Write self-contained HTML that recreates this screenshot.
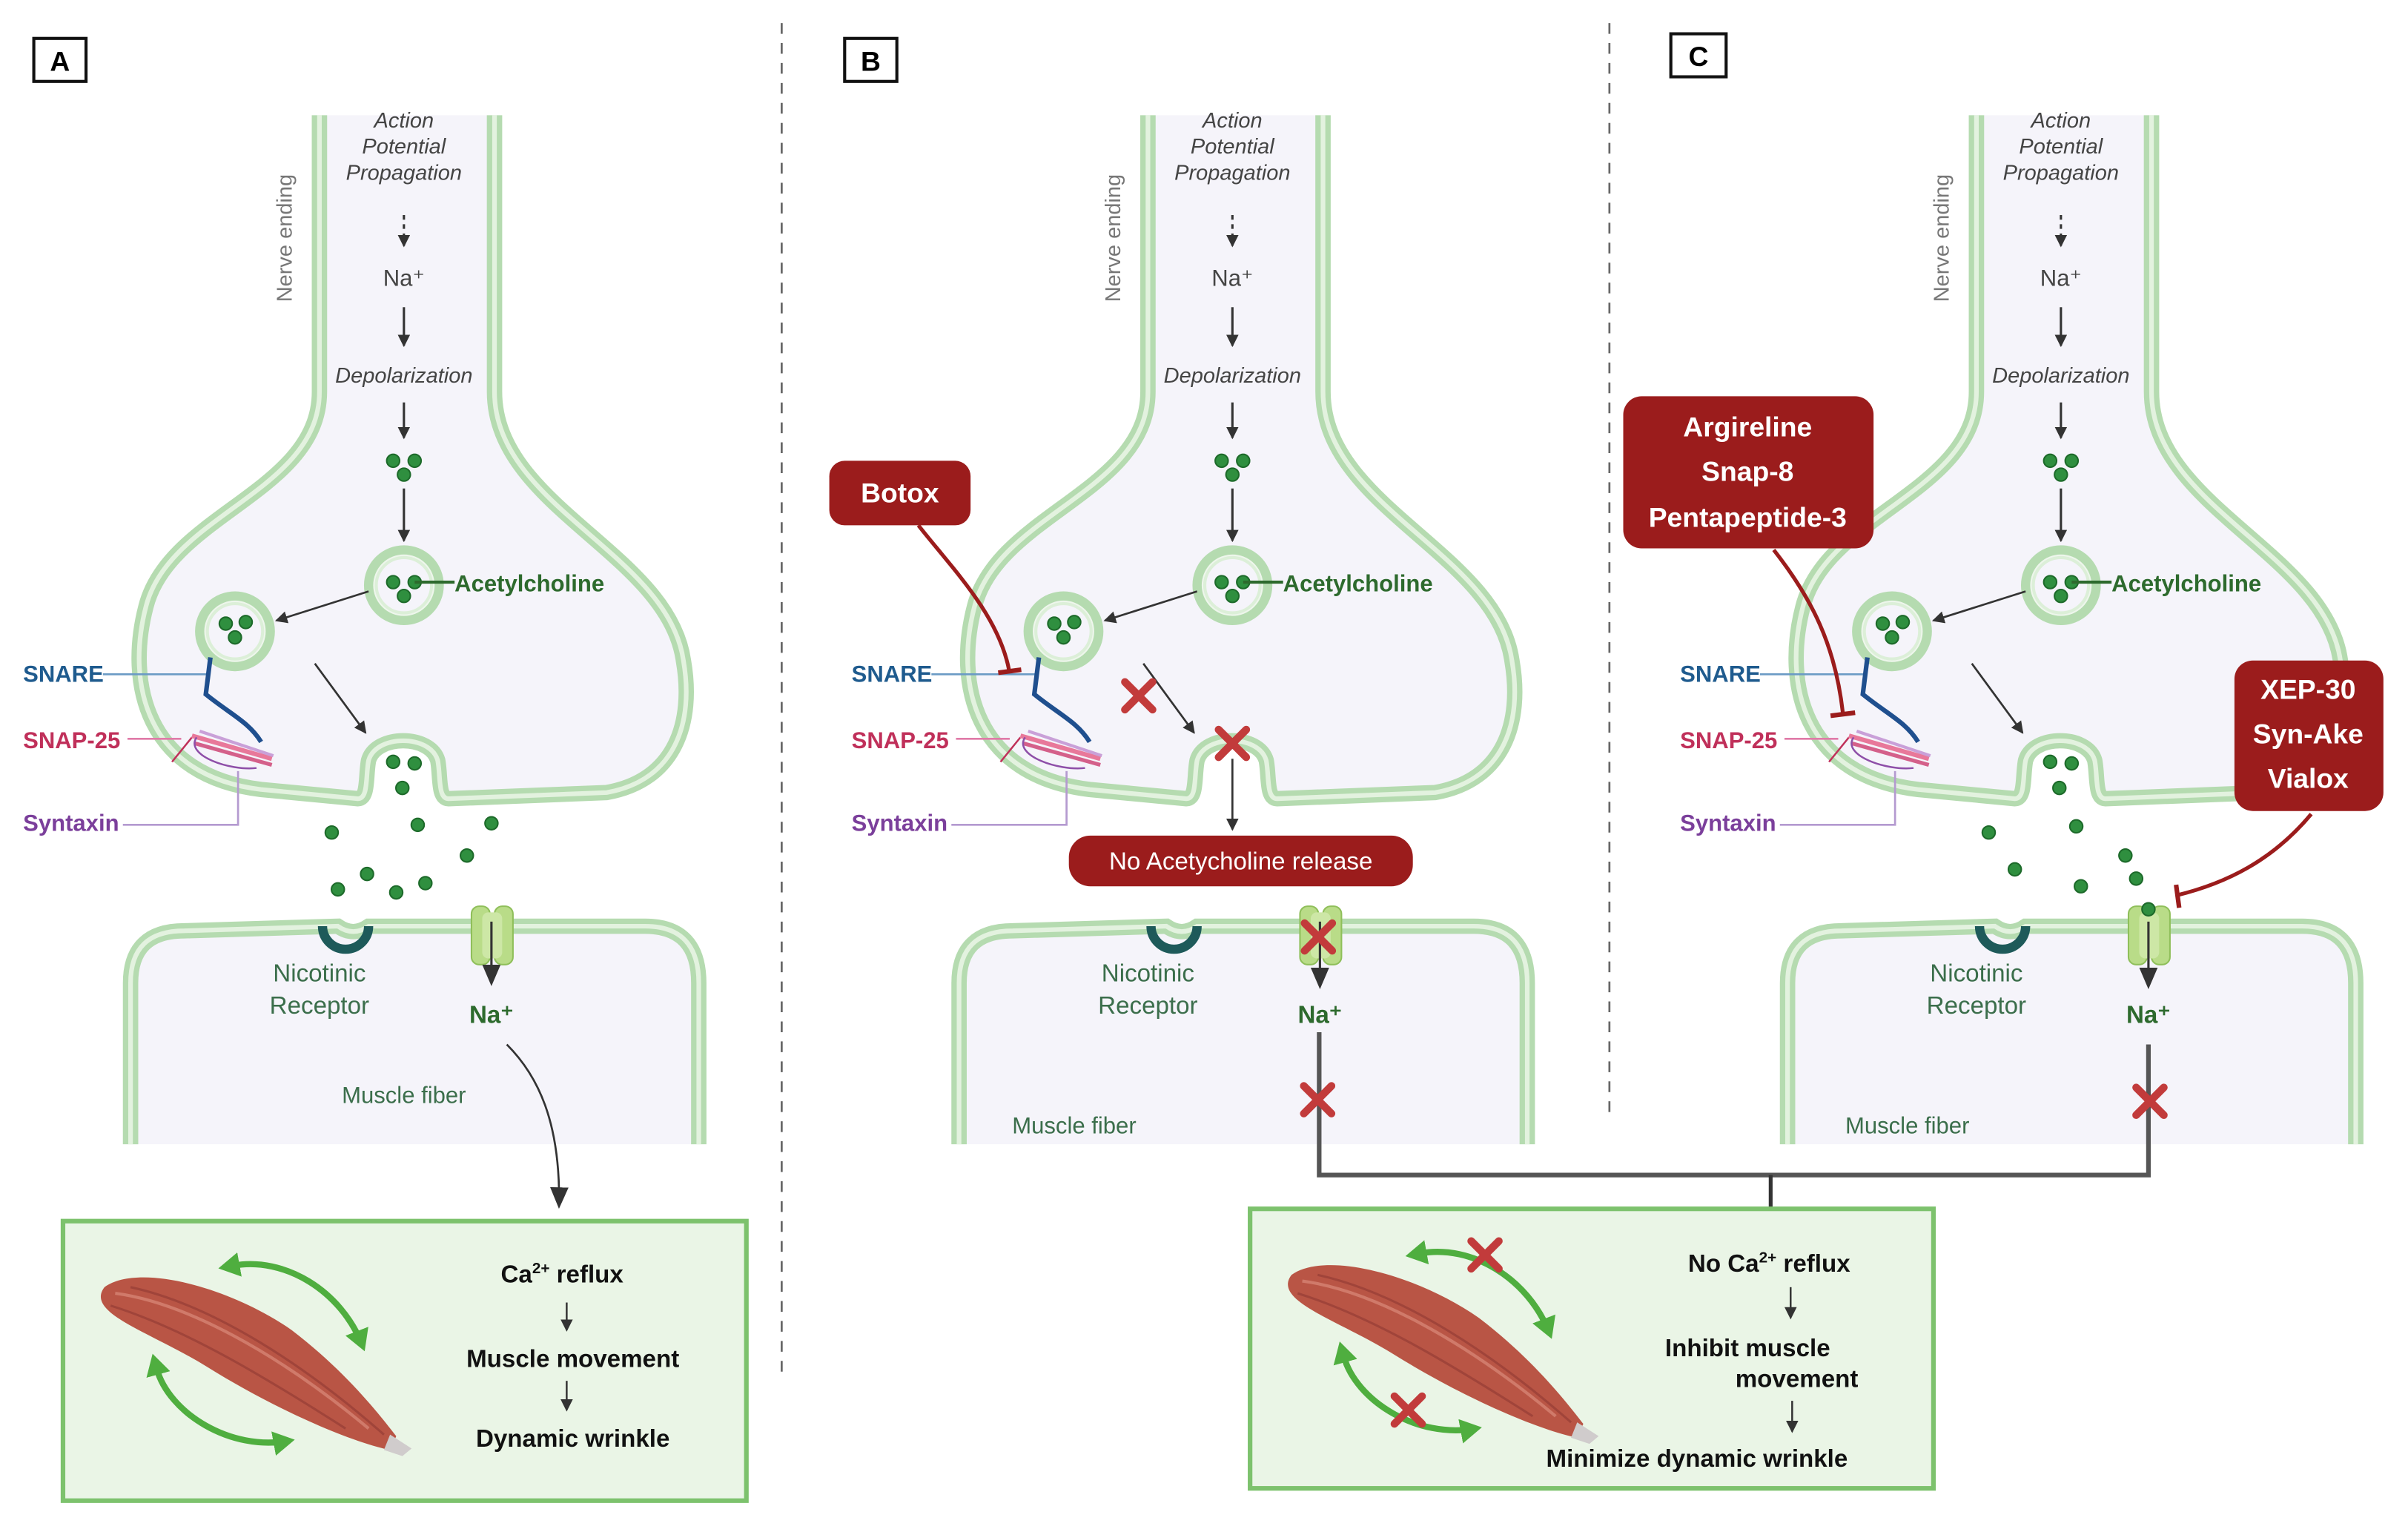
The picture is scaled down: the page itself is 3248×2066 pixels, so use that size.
<!DOCTYPE html>
<html><head><meta charset="utf-8"><style>
html,body{margin:0;padding:0;background:#fff;}
svg{display:block;}
text{font-family:"Liberation Sans",sans-serif;}
</style></head><body>
<svg width="3248" height="2066" viewBox="0 0 1568 997.4" xmlns="http://www.w3.org/2000/svg">
<defs>
<marker id="ah" markerWidth="8" markerHeight="8" refX="7" refY="4" orient="auto" markerUnits="userSpaceOnUse"><path d="M0,0 L8,4 L0,8Z" fill="#333"/></marker>
<marker id="ahb" markerWidth="14" markerHeight="12" refX="12" refY="6" orient="auto" markerUnits="userSpaceOnUse"><path d="M0,0 L14,6 L0,12Z" fill="#333"/></marker>
<marker id="ahg" markerWidth="16" markerHeight="16" refX="10" refY="8" orient="auto" markerUnits="userSpaceOnUse"><path d="M0,0 L14,8 L0,16Z" fill="#4fae3f"/></marker>
<marker id="ahg2" markerWidth="16" markerHeight="16" refX="4" refY="8" orient="auto-start-reverse" markerUnits="userSpaceOnUse"><path d="M0,0 L14,8 L0,16Z" fill="#4fae3f"/></marker>
<g id="xm"><path d="M-9,-9 L9,9 M9,-9 L-9,9" stroke="#c23b3b" stroke-width="5" stroke-linecap="round"/></g>
<g id="ves"><circle r="23" fill="#eef6ec" stroke="#b5dbb0" stroke-width="6"/><circle r="18" fill="#f5f4fa" stroke="#dcefd8" stroke-width="2"/></g>
<g id="dot"><circle r="4.2" fill="#2f8f3f" stroke="#1d6a2a" stroke-width="1"/></g>

<g id="nerve">
 <path d="M208,75 L208,255 C208,320 110,335 95,395 C82,445 95,505 170,514 L233,520 C240,520 238,505 240,495 C245,478 280,478 285,495 C287,505 285,520 292,520 L395,516 C440,508 452,470 445,430 C435,360 322,330 322,255 L322,75 L208,75Z" fill="#f5f4fa"/>
 <path d="M208,75 L208,255 C208,320 110,335 95,395 C82,445 95,505 170,514 L233,520 C240,520 238,505 240,495 C245,478 280,478 285,495 C287,505 285,520 292,520 L395,516 C440,508 452,470 445,430 C435,360 322,330 322,255 L322,75" fill="none" stroke="#b5dbb0" stroke-width="10"/>
 <path d="M208,75 L208,255 C208,320 110,335 95,395 C82,445 95,505 170,514 L233,520 C240,520 238,505 240,495 C245,478 280,478 285,495 C287,505 285,520 292,520 L395,516 C440,508 452,470 445,430 C435,360 322,330 322,255 L322,75" fill="none" stroke="#e3f2df" stroke-width="3"/>
 <path d="M85,745 L85,640 Q85,606 120,606 L220,603 Q230,610 240,603 L420,603 Q455,603 455,640 L455,745Z" fill="#f5f4fa"/>
 <path d="M85,745 L85,640 Q85,606 120,606 L220,603 Q230,610 240,603 L420,603 Q455,603 455,640 L455,745" fill="none" stroke="#b5dbb0" stroke-width="10"/>
 <path d="M85,745 L85,640 Q85,606 120,606 L220,603 Q230,610 240,603 L420,603 Q455,603 455,640 L455,745" fill="none" stroke="#e3f2df" stroke-width="3"/>
 <text x="190" y="155" transform="rotate(-90 190 155)" text-anchor="middle" font-size="14" fill="#777">Nerve ending</text>
 <g font-size="14" font-style="italic" fill="#444" text-anchor="middle">
  <text x="263" y="83">Action</text><text x="263" y="100">Potential</text><text x="263" y="117">Propagation</text>
  <text x="263" y="249">Depolarization</text>
 </g>
 <path d="M263,140 L263,160" stroke="#333" stroke-width="1.5" stroke-dasharray="3,3" marker-end="url(#ah)"/>
 <text x="263" y="186" font-size="15" fill="#444" text-anchor="middle">Na⁺</text>
 <path d="M263,200 L263,225" stroke="#333" stroke-width="1.5" marker-end="url(#ah)"/>
 <path d="M263,262 L263,285" stroke="#333" stroke-width="1.5" marker-end="url(#ah)"/>
 <use href="#dot" x="256" y="300"/><use href="#dot" x="270" y="300"/><use href="#dot" x="263" y="309"/>
 <path d="M263,318 L263,352" stroke="#333" stroke-width="1.5" marker-end="url(#ah)"/>
 <use href="#ves" x="263" y="381"/>
 <use href="#dot" x="256" y="379"/><use href="#dot" x="270" y="379"/><use href="#dot" x="263" y="388"/>
 <path d="M270,379 L296,379" stroke="#2d6a2d" stroke-width="2"/>
 <text x="296" y="385" font-size="15" font-weight="bold" fill="#2d6a2d">Acetylcholine</text>
 <path d="M240,385 L180,404" stroke="#333" stroke-width="1.3" marker-end="url(#ah)"/>
 <use href="#ves" x="153" y="411"/>
 <use href="#dot" x="147" y="406"/><use href="#dot" x="160" y="405"/><use href="#dot" x="153" y="415"/>
 <path d="M205,432 L238,477" stroke="#333" stroke-width="1.3" marker-end="url(#ah)"/>
 <text x="15" y="444" font-size="15" font-weight="bold" fill="#1f5b8e">SNARE</text>
 <path d="M67,439 L135,439" stroke="#6b9bc5" stroke-width="1.3"/>
 <path d="M137,428 L134,452 C150,465 162,470 170,483" stroke="#1f4f8e" stroke-width="3" fill="none"/>
 <text x="15" y="487" font-size="15" font-weight="bold" fill="#c0305a">SNAP-25</text>
 <path d="M83,481 L118,481" stroke="#e07aa8" stroke-width="1.3"/>
 <path d="M112,496 L125,480" stroke="#c0305a" stroke-width="1.2"/>
 <g class="snap"><path d="M125,479 L177,494" stroke="#e8789a" stroke-width="3"/><path d="M127,484 L177,498" stroke="#d4608a" stroke-width="2.5"/><path d="M130,476 L178,492" stroke="#c9a0d8" stroke-width="2"/></g>
 <path d="M128,480 C120,492 150,502 167,500" stroke="#8e4fa8" stroke-width="1.2" fill="none"/>
 <text x="15" y="541" font-size="15" font-weight="bold" fill="#7b3f9b">Syntaxin</text>
 <path d="M80,537 L155,537 L155,502" stroke="#b49ad0" stroke-width="1.3" fill="none"/>
 <path d="M210,603 a15,15 0 0 0 30,0" fill="none" stroke="#1e5a5a" stroke-width="6"/>
 <text x="208" y="639" font-size="16" fill="#3b6e4b" text-anchor="middle">Nicotinic</text>
 <text x="208" y="660" font-size="16" fill="#3b6e4b" text-anchor="middle">Receptor</text>
 <g>
  <rect x="307" y="590" width="12" height="38" rx="5" fill="#b9dc88" stroke="#8fbf5a"/>
  <rect x="322" y="590" width="12" height="38" rx="5" fill="#b9dc88" stroke="#8fbf5a"/>
  <rect x="314" y="594" width="13" height="30" rx="4" fill="#cde7a6"/>
 </g>
</g>
<g id="rbox"><rect x="0" y="0" width="1" height="1" fill="none"/></g>
</defs>

<!-- dividers -->
<path d="M509,15 L509,895" stroke="#666" stroke-width="1.3" stroke-dasharray="7,6"/>
<path d="M1048,15 L1048,725" stroke="#666" stroke-width="1.3" stroke-dasharray="7,6"/>

<!-- Panel A -->
<rect x="22" y="25" width="34" height="28" fill="#fff" stroke="#111" stroke-width="2"/>
<text x="39" y="46" font-size="18" font-weight="bold" text-anchor="middle">A</text>
<use href="#nerve"/>
<use href="#dot" x="256" y="496"/><use href="#dot" x="270" y="497"/><use href="#dot" x="262" y="513"/>
<g>
<use href="#dot" x="216" y="542"/><use href="#dot" x="272" y="537"/><use href="#dot" x="320" y="536"/><use href="#dot" x="304" y="557"/>
<use href="#dot" x="239" y="569"/><use href="#dot" x="258" y="581"/><use href="#dot" x="277" y="575"/><use href="#dot" x="220" y="579"/>
</g>
<path d="M320,600 L320,640" stroke="#333" stroke-width="1.5" marker-end="url(#ahb)"/>
<text x="320" y="666" font-size="16" font-weight="bold" fill="#2d6a2d" text-anchor="middle">Na⁺</text>
<text x="263" y="718" font-size="15" fill="#3b6e4b" text-anchor="middle">Muscle fiber</text>
<path d="M330,680 C350,700 365,730 364,785" stroke="#333" stroke-width="1.3" fill="none" marker-end="url(#ahb)"/>

<g id="musclebox">
<rect x="41" y="795" width="445" height="182" fill="#eaf5e6" stroke="#7dc26d" stroke-width="3"/>
<path d="M68,838 C90,822 150,838 190,866 C228,895 250,925 258,935 L254,944 C225,938 175,915 135,890 C98,867 55,855 68,838Z" fill="#b95545"/>
<path d="M75,842 C120,848 180,880 240,930" stroke="#d07a6a" stroke-width="2" fill="none"/>
<path d="M85,838 C140,850 200,890 250,934" stroke="#a0443a" stroke-width="1.5" fill="none"/>
<path d="M72,850 C120,865 170,895 225,930" stroke="#a0443a" stroke-width="1.5" fill="none"/>
<path d="M254,934 L268,943 L262,948 L250,944Z" fill="#d0cccc"/>
<path d="M152,824 C185,818 222,840 236,876" stroke="#4fae3f" stroke-width="4" fill="none" marker-start="url(#ahg2)" marker-end="url(#ahg)"/>
<path d="M102,891 C110,920 150,945 188,938" stroke="#4fae3f" stroke-width="4" fill="none" marker-start="url(#ahg2)" marker-end="url(#ahg)"/>
</g>
<g font-size="16" font-weight="bold" fill="#111" text-anchor="middle">
<text x="366" y="835">Ca<tspan font-size="10" dy="-6">2+</tspan><tspan dy="6"> reflux</tspan></text>
<text x="373" y="890">Muscle movement</text>
<text x="373" y="942">Dynamic wrinkle</text>
</g>
<path d="M369,848 L369,866" stroke="#333" stroke-width="1.2" marker-end="url(#ah)"/>
<path d="M369,899 L369,918" stroke="#333" stroke-width="1.2" marker-end="url(#ah)"/>

<!-- Panel B -->
<rect x="550" y="25" width="34" height="28" fill="#fff" stroke="#111" stroke-width="2"/>
<text x="567" y="46" font-size="18" font-weight="bold" text-anchor="middle">B</text>
<g transform="translate(539.5,0)">
<use href="#nerve"/>
<path d="M320,600 L320,642" stroke="#333" stroke-width="1.5" marker-end="url(#ahb)"/>
<text x="320" y="666" font-size="16" font-weight="bold" fill="#2d6a2d" text-anchor="middle">Na⁺</text>
<use href="#xm" x="319" y="610"/>
<use href="#xm" x="263" y="484"/>
<use href="#xm" x="202" y="453"/>
<path d="M263,494 L263,540" stroke="#333" stroke-width="1.3" marker-end="url(#ah)"/>
<text x="160" y="738" font-size="15" fill="#3b6e4b" text-anchor="middle">Muscle fiber</text>
</g>
<rect x="540" y="300" width="92" height="42" rx="10" fill="#9b1c1c"/>
<text x="586" y="327" font-size="18" font-weight="bold" fill="#fff" text-anchor="middle">Botox</text>
<path d="M598,342 C620,370 650,400 657,436" stroke="#9b1c1c" stroke-width="2.5" fill="none"/>
<path d="M650,438 L665,436" stroke="#9b1c1c" stroke-width="3"/>
<rect x="696" y="544" width="224" height="33" rx="14" fill="#9b1c1c"/>
<text x="808" y="566" font-size="16" fill="#fff" text-anchor="middle">No Acetycholine release</text>

<!-- Panel C -->
<rect x="1088" y="22" width="36" height="28" fill="#fff" stroke="#111" stroke-width="2"/>
<text x="1106" y="43" font-size="18" font-weight="bold" text-anchor="middle">C</text>
<g transform="translate(1079,0)">
<use href="#nerve"/>
<use href="#dot" x="256" y="496"/><use href="#dot" x="270" y="497"/><use href="#dot" x="262" y="513"/>
<use href="#dot" x="216" y="542"/><use href="#dot" x="273" y="538"/><use href="#dot" x="305" y="557"/>
<use href="#dot" x="233" y="566"/><use href="#dot" x="276" y="577"/><use href="#dot" x="320" y="592"/><use href="#dot" x="312" y="572"/>
<path d="M320,600 L320,642" stroke="#333" stroke-width="1.5" marker-end="url(#ahb)"/>
<text x="320" y="666" font-size="16" font-weight="bold" fill="#2d6a2d" text-anchor="middle">Na⁺</text>
<text x="163" y="738" font-size="15" fill="#3b6e4b" text-anchor="middle">Muscle fiber</text>
</g>
<rect x="1057" y="258" width="163" height="99" rx="12" fill="#9b1c1c"/>
<g font-size="18" font-weight="bold" fill="#fff" text-anchor="middle">
<text x="1138" y="284">Argireline</text><text x="1138" y="313">Snap-8</text><text x="1138" y="343">Pentapeptide-3</text>
</g>
<path d="M1155,358 C1180,390 1195,420 1200,464" stroke="#9b1c1c" stroke-width="2.5" fill="none"/>
<path d="M1192,466 L1208,464" stroke="#9b1c1c" stroke-width="3"/>
<rect x="1455" y="430" width="97" height="98" rx="12" fill="#9b1c1c"/>
<g font-size="18" font-weight="bold" fill="#fff" text-anchor="middle">
<text x="1503" y="455">XEP-30</text><text x="1503" y="484">Syn-Ake</text><text x="1503" y="513">Vialox</text>
</g>
<path d="M1505,530 C1480,560 1450,575 1417,583" stroke="#9b1c1c" stroke-width="2.5" fill="none"/>
<path d="M1417,576 L1419,591" stroke="#9b1c1c" stroke-width="3"/>

<!-- connector -->
<path d="M859,672 L859,765 L1399,765 L1399,680" stroke="#555" stroke-width="3" fill="none"/>
<use href="#xm" x="858" y="716"/>
<use href="#xm" x="1400" y="717"/>
<path d="M1153,765 L1153,804" stroke="#333" stroke-width="2.5" marker-end="url(#ahb)"/>

<!-- box B/C -->
<g transform="translate(773,-8)">
<use href="#musclebox"/>
</g>
<use href="#xm" x="967" y="817"/>
<use href="#xm" x="917" y="918"/>
<g font-size="16" font-weight="bold" fill="#111" text-anchor="middle">
<text x="1152" y="828">No Ca<tspan font-size="10" dy="-6">2+</tspan><tspan dy="6"> reflux</tspan></text>
<text x="1138" y="883">Inhibit muscle</text>
<text x="1170" y="903">movement</text>
<text x="1105" y="955">Minimize dynamic wrinkle</text>
</g>
<path d="M1166,838 L1166,858" stroke="#333" stroke-width="1.2" marker-end="url(#ah)"/>
<path d="M1167,912 L1167,932" stroke="#333" stroke-width="1.2" marker-end="url(#ah)"/>
</svg>
</body></html>
